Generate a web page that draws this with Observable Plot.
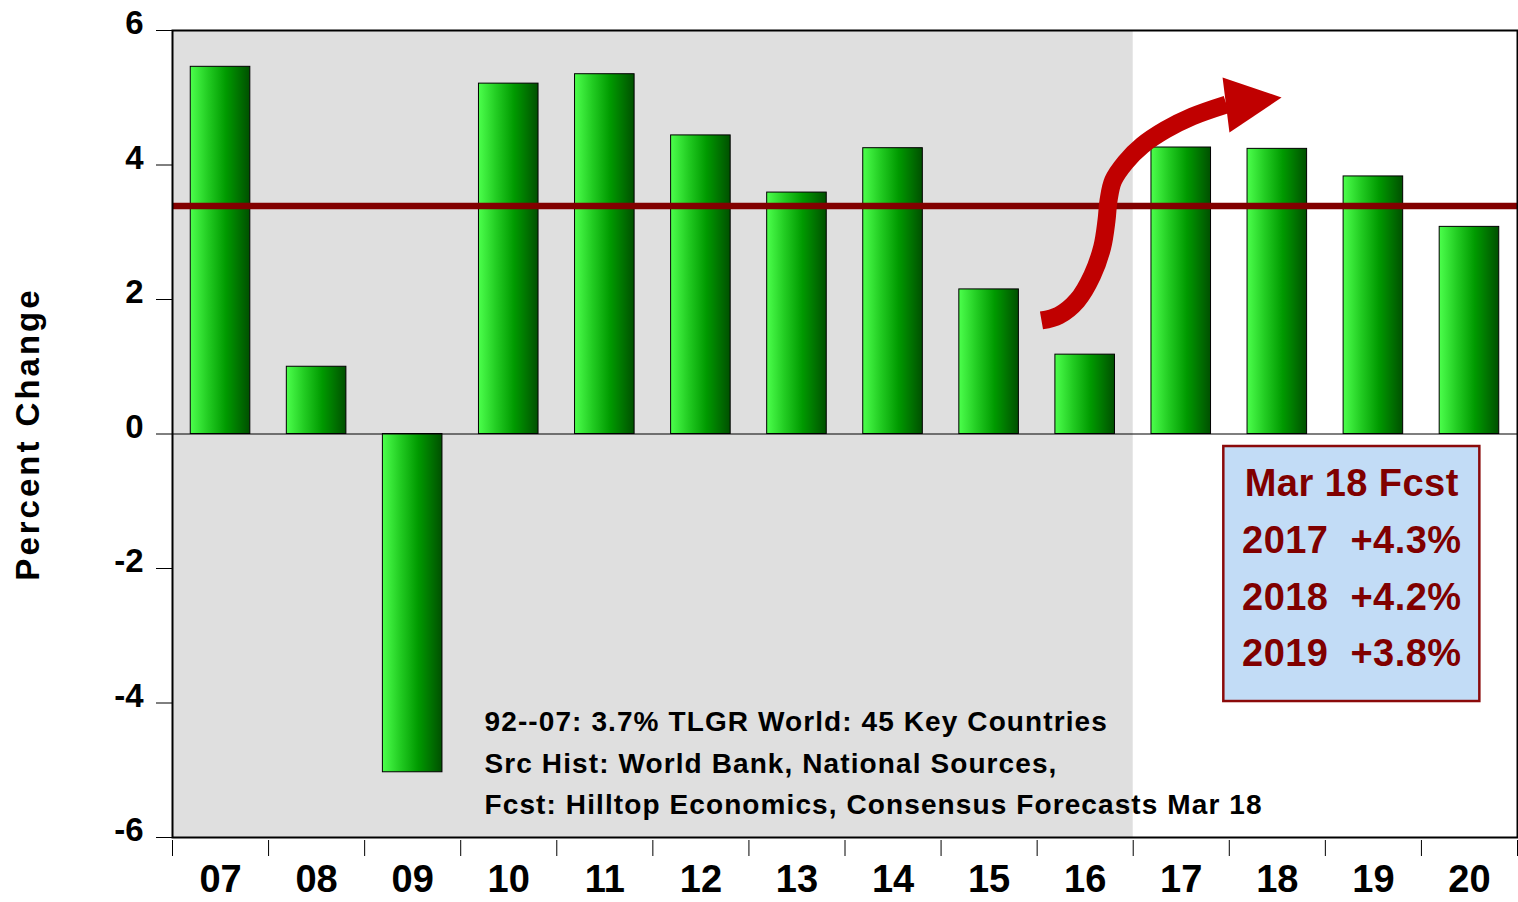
<!DOCTYPE html>
<html><head><meta charset="utf-8">
<script src="https://cdn.jsdelivr.net/npm/d3@7"></script>
<script src="https://cdn.jsdelivr.net/npm/@observablehq/plot@0.6"></script>
<style>html,body{margin:0;padding:0;background:#fff;overflow:hidden}</style>
</head><body><div id="chart"></div>
<script>
// ---- data ----
const years = [2007, 2008, 2009, 2010, 2011, 2012, 2013, 2014, 2015, 2016, 2017, 2018, 2019, 2020];
const growth = [5.46, 1.00, -5.03, 5.21, 5.35, 4.44, 3.59, 4.25, 2.15, 1.18, 4.26, 4.24, 3.83, 3.08];
const trendRate = 3.39;
const yTicks = [-6, -4, -2, 0, 2, 4, 6];
const yLabel = "Percent Change";
const histFrom = 2006.5, histTo = 2016.5;
const fcstTitle = "Mar 18 Fcst";
const fcstYears = [2017, 2018, 2019];
const fcstValues = [4.3, 4.2, 3.8];
const notes = [
  "92--07: 3.7% TLGR World: 45 Key Countries",
  "Src Hist: World Bank, National Sources,",
  "Fcst: Hilltop Economics, Consensus Forecasts Mar 18"
];
// annotation arrow path (data units)
const arrowX = [2015.545, 2015.726, 2015.917, 2016.073, 2016.177, 2016.222, 2016.243, 2016.292, 2016.420, 2016.594, 2016.836, 2017.114, 2017.471];
const arrowY = [1.688, 1.762, 1.985, 2.357, 2.778, 3.175, 3.472, 3.770, 4.042, 4.290, 4.523, 4.721, 4.900];
const headX = [2017.43, 2018.044, 2017.502, 2017.43];
const headY = [5.301, 5.004, 4.483, 5.301];

const bars = years.map((year, i) => ({year, value: growth[i]}));
const arrowPts = arrowX.map((x, i) => ({x, y: arrowY[i]}));
const headPts = headX.map((x, i) => ({x, y: headY[i]}));
const boxLines = [fcstTitle, ...fcstYears.map((y, i) => `${y}\u00a0\u00a0+${fcstValues[i].toFixed(1)}%`)];
const bandEdges = d3.range(years.length + 1).map(i => years[0] - 0.5 + i);

const svg = Plot.plot({
  width: 1518, height: 902,
  marginLeft: 172, marginRight: 1, marginTop: 30, marginBottom: 65,
  style: {fontFamily: "'Liberation Sans', Arial, sans-serif", fontWeight: "bold", background: "white", color: "black"},
  x: {domain: [years[0] - 0.5, years[years.length - 1] + 0.5]},
  y: {domain: [-6, 6]},
  marks: [
    Plot.rect([0], {x1: () => histFrom, x2: () => histTo, y1: () => -6, y2: () => 6, fill: "#dfdfdf"}),
    Plot.rect(bars, {x1: d => d.year - 0.31, x2: d => d.year + 0.31, y1: () => 0, y2: "value",
      fill: "url(#barGrad)", stroke: "black", strokeWidth: 1}),
    Plot.ruleY([0], {stroke: "black", strokeWidth: 1.2}),
    Plot.ruleY([trendRate], {stroke: "#820000", strokeWidth: 6.5}),
    Plot.line(arrowPts, {x: "x", y: "y", curve: "catmull-rom", stroke: "#c00000", strokeWidth: 18, strokeLinecap: "butt"}),
    Plot.line(headPts, {x: "x", y: "y", fill: "#c00000", stroke: "none"}),
    Plot.rect([0], {x1: () => 2017.443, x2: () => 2020.108, y1: () => -0.186, y2: () => -3.978,
      fill: "#c2dcf6", stroke: "#8b0a0a", strokeWidth: 2.5}),
    Plot.text(boxLines, {x: () => 2018.775, y: (d, i) => -0.746 - 0.8425 * i, text: d => d,
      fontSize: 38, fill: "#800000", textAnchor: "middle"}),
    Plot.text(notes, {x: () => 2009.748, y: (d, i) => -4.29 - 0.612 * i, text: d => d,
      fontSize: 28, fill: "black", textAnchor: "start"}),
    Plot.text([yLabel], {frameAnchor: "left", dx: -134, rotate: -90, text: d => d, textAnchor: "middle",
      lineAnchor: "bottom", fontSize: 33, fill: "black"}),
    Plot.frame({stroke: "black", strokeWidth: 2}),
    Plot.axisY({ticks: yTicks, tickSize: 16, fill: "none", label: null}),
    Plot.axisY({ticks: yTicks, tickSize: 0, tickPadding: 29, dy: -7, fontSize: 33, tickFormat: d => String(d), label: null}),
    Plot.axisX({ticks: bandEdges, tickSize: 16, dy: 3, fill: "none", label: null}),
    Plot.axisX({ticks: years, tickSize: 0, tickPadding: 28, fontSize: 38, tickFormat: d => String(d % 100).padStart(2, "0"), label: null})
  ]
});

const s = d3.select(svg);
const grad = s.insert("defs", ":first-child").append("linearGradient")
  .attr("id", "barGrad").attr("x1", 0).attr("x2", 1).attr("y1", 0).attr("y2", 0);
[[0, "#4cff4c"], [0.3, "#22cc22"], [0.6, "#009a00"], [1, "#005000"]].forEach(([o, c]) =>
  grad.append("stop").attr("offset", o).attr("stop-color", c));
const spacing = (list, ls) => s.selectAll("text").filter(function () { return list.includes(this.textContent); })
  .style("letter-spacing", ls);
spacing(notes, "1.1px");
spacing([yLabel], "3px");
spacing(boxLines, "0.45px");
document.getElementById("chart").appendChild(svg);
</script>
</body></html>
